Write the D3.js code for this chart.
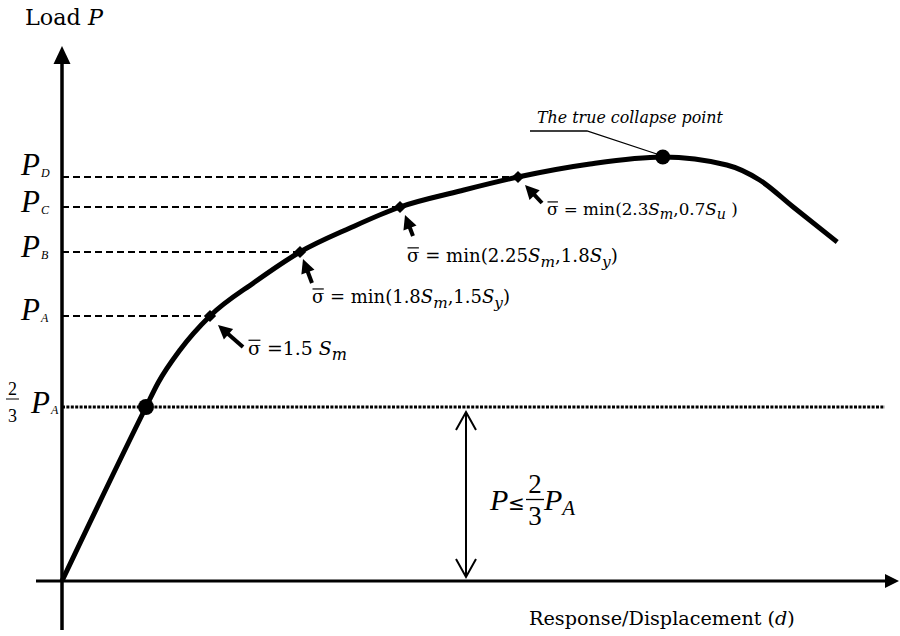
<!DOCTYPE html>
<html>
<head>
<meta charset="utf-8">
<script src="https://cdn.jsdelivr.net/npm/d3@7"></script>
<style>
body { margin: 0; background: #fff; }
text { font-family: "DejaVu Serif", serif; fill: #000; }
.math { font-family: "Liberation Serif", serif; }
</style>
</head>
<body>
<svg id="chart" width="900" height="636"></svg>
<script>
// load-displacement curve (arbitrary units)
var curveD = [0, 1.05, 1.2, 1.475, 1.85, 2.41, 2.975, 3.6, 4.225, 4.975, 5.7, 6.6, 7.51, 8.31, 8.72, 9.14, 9.69];
var curveP = [0, 3.48, 3.96, 4.62, 5.3, 5.98, 6.58, 7.06, 7.48, 7.8, 8.08, 8.34, 8.48, 8.32, 8.02, 7.48, 6.78];

// load levels P_A .. P_D marked on the curve
var levelNames = ['A', 'B', 'C', 'D'];
var levelD = [1.85, 2.975, 4.225, 5.7];
var levelP = [5.3, 6.58, 7.48, 8.08];
var stressLabels = [' =1.5 S_m', ' = min(1.8S_m,1.5S_y)', ' = min(2.25S_m,1.8S_y)', ' = min(2.3S_m,0.7S_u )'];

// 2/3 P_A and the collapse point
var allowD = 1.05, allowP = 3.48;
var collapseD = 7.51, collapseP = 8.48;

var svg = d3.select('#chart');
var g = svg.append('g');

var x = d3.scaleLinear().domain([0, 10]).range([62, 862]);
var y = d3.scaleLinear().domain([0, 10]).range([581, 81]);

function fit(sel, width) {
    var w = sel.node().getComputedTextLength();
    var fs = parseFloat(sel.style('font-size'));
    sel.style('font-size', (fs * width / w) + 'px');
}

function arrow(x1, y1, x2, y2, len, half, sw) {
    var a = Math.atan2(y2 - y1, x2 - x1);
    var bx = x2 - len * Math.cos(a), by = y2 - len * Math.sin(a);
    g.append('line')
        .attr('x1', x1).attr('y1', y1)
        .attr('x2', bx + 2 * Math.cos(a)).attr('y2', by + 2 * Math.sin(a))
        .attr('stroke', '#000').attr('stroke-width', sw);
    g.append('path')
        .attr('d', 'M' + x2 + ',' + y2 +
            'L' + (bx + half * Math.sin(a)) + ',' + (by - half * Math.cos(a)) +
            'L' + (bx - half * Math.sin(a)) + ',' + (by + half * Math.cos(a)) + 'Z')
        .attr('fill', '#000');
}

// reference lines
levelP.forEach(function(p, i) {
    g.append('line')
        .attr('x1', x(0)).attr('x2', x(levelD[i]))
        .attr('y1', y(p)).attr('y2', y(p))
        .attr('stroke', '#000').attr('stroke-width', 1.8)
        .attr('stroke-dasharray', '7,4');
});

g.append('line')
    .attr('x1', x(0)).attr('x2', 885)
    .attr('y1', y(allowP)).attr('y2', y(allowP))
    .attr('stroke', '#000').attr('stroke-width', 3.2)
    .attr('stroke-dasharray', '3,1.4');

// axes
g.append('line').attr('x1', 62).attr('x2', 62).attr('y1', 630).attr('y2', 60)
    .attr('stroke', '#000').attr('stroke-width', 3.5);
g.append('path').attr('d', 'M62,46L53.5,64L70.5,64Z').attr('fill', '#000');
g.append('line').attr('x1', 36).attr('x2', 888).attr('y1', y(0)).attr('y2', y(0))
    .attr('stroke', '#000').attr('stroke-width', 3);
g.append('path').attr('d', 'M899,581L885,574L885,588Z').attr('fill', '#000');

// the curve
var line = d3.line()
    .x(function(d) { return x(d[0]); })
    .y(function(d) { return y(d[1]); })
    .curve(d3.curveMonotoneX);

g.append('path')
    .datum(d3.zip(curveD, curveP))
    .attr('d', line)
    .attr('fill', 'none')
    .attr('stroke', '#000')
    .attr('stroke-width', 5)
    .attr('stroke-linejoin', 'round');

// markers
levelP.forEach(function(p, i) {
    g.append('path')
        .attr('d', d3.symbol(d3.symbolSquare, 75)())
        .attr('transform', 'translate(' + x(levelD[i]) + ',' + y(p) + ') rotate(45)')
        .attr('fill', '#000');
});
g.append('circle').attr('cx', x(allowD)).attr('cy', y(allowP)).attr('r', 8).attr('fill', '#000');
g.append('circle').attr('cx', x(collapseD)).attr('cy', y(collapseP)).attr('r', 7.5).attr('fill', '#000');

// stress annotations: [head dx, head dy, tail dx, tail dy, text dx, text dy, text width]
var notes = [
    [8, 9, 33, 31, 38, 39, 99],
    [3, 7, 12, 31, 12, 51, 198],
    [5, 8, 13, 29, 7, 55, 211],
    [7, 8, 24, 26, 29, 38, 191]
];

stressLabels.forEach(function(str, i) {
    var px = x(levelD[i]), py = y(levelP[i]), n = notes[i];
    arrow(px + n[2], py + n[3], px + n[0], py + n[1], 14, 7, 4);

    var t = g.append('text')
        .attr('x', px + n[4]).attr('y', py + n[5])
        .style('font-size', '16px');
    t.append('tspan').text('σ');
    var shift = 0;
    str.split(/(S_[a-z])/).forEach(function(part) {
        if (!part) return;
        if (part.indexOf('S_') === 0) {
            var s = t.append('tspan').style('font-style', 'italic').text('S');
            if (shift) { s.attr('dy', -shift + 'em'); shift = 0; }
            t.append('tspan').style('font-style', 'italic').style('font-size', '0.85em')
                .attr('dy', '0.3em').text(part.charAt(2));
            shift = 0.255;
        } else {
            var r = t.append('tspan').text(part);
            if (shift) { r.attr('dy', -shift + 'em'); shift = 0; }
        }
    });
    fit(t, n[6]);
    var fs = parseFloat(t.style('font-size'));
    var ext = t.node().getExtentOfChar(0);
    g.append('line')
        .attr('x1', ext.x + 0.5).attr('x2', ext.x + ext.width - 0.5)
        .attr('y1', py + n[5] - 0.78 * fs).attr('y2', py + n[5] - 0.78 * fs)
        .attr('stroke', '#000').attr('stroke-width', 1.2);
});

// level labels on the load axis
var labelDy = [4, 5, 5, -2];
levelNames.forEach(function(name, i) {
    var t = g.append('text').attr('class', 'math')
        .attr('x', 21).attr('y', y(levelP[i]) + labelDy[i]);
    t.append('tspan').style('font-size', '31px').style('font-style', 'italic').text('P');
    t.append('tspan').style('font-size', '12px').style('font-style', 'italic')
        .attr('dx', 1).attr('dy', 2).text(name);
});

// 2/3 P_A label
g.append('text').attr('class', 'math').attr('x', 12.5).attr('y', 395)
    .attr('text-anchor', 'middle').style('font-size', '18px').text('2');
g.append('line').attr('x1', 6).attr('x2', 19).attr('y1', 399).attr('y2', 399)
    .attr('stroke', '#000').attr('stroke-width', 1);
g.append('text').attr('class', 'math').attr('x', 12.5).attr('y', 422)
    .attr('text-anchor', 'middle').style('font-size', '18px').text('3');
var pa = g.append('text').attr('class', 'math').attr('x', 31).attr('y', y(allowP) + 6);
pa.append('tspan').style('font-size', '31px').style('font-style', 'italic').text('P');
pa.append('tspan').style('font-size', '12px').style('font-style', 'italic')
    .attr('dx', 1).attr('dy', 1).text('A');

// allowable range arrow and formula
var ax = 466, ay1 = y(allowP) + 5, ay2 = y(0) - 4;
g.append('line').attr('x1', ax).attr('x2', ax).attr('y1', ay1).attr('y2', ay2)
    .attr('stroke', '#000').attr('stroke-width', 2);
g.append('path')
    .attr('d', 'M' + (ax - 10) + ',' + (ay1 + 18) + 'L' + ax + ',' + ay1 + 'L' + (ax + 10) + ',' + (ay1 + 18) +
        'M' + (ax - 10) + ',' + (ay2 - 18) + 'L' + ax + ',' + ay2 + 'L' + (ax + 10) + ',' + (ay2 - 18))
    .attr('fill', 'none').attr('stroke', '#000').attr('stroke-width', 2);

g.append('text').attr('class', 'math').attr('x', 490).attr('y', 510)
    .style('font-size', '30px').style('font-style', 'italic').text('P');
g.append('text').attr('x', 508).attr('y', 510)
    .style('font-size', '20px').style('font-family', '"DejaVu Sans", sans-serif').text('≤');
g.append('text').attr('class', 'math').attr('x', 535).attr('y', 493)
    .attr('text-anchor', 'middle').style('font-size', '27px').text('2');
g.append('line').attr('x1', 526).attr('x2', 544).attr('y1', 499.5).attr('y2', 499.5)
    .attr('stroke', '#000').attr('stroke-width', 1.3);
g.append('text').attr('class', 'math').attr('x', 535).attr('y', 525)
    .attr('text-anchor', 'middle').style('font-size', '27px').text('3');
var pb = g.append('text').attr('class', 'math').attr('x', 544).attr('y', 510);
pb.append('tspan').style('font-size', '30px').style('font-style', 'italic').text('P');
pb.append('tspan').style('font-size', '21px').style('font-style', 'italic')
    .attr('dy', 5).text('A');

// collapse point callout
g.append('path')
    .attr('d', 'M530,131L587,131L' + (x(collapseD) - 6) + ',' + (y(collapseP) - 3))
    .attr('fill', 'none').attr('stroke', '#000').attr('stroke-width', 1.3);
var ct = g.append('text').attr('x', 537).attr('y', 123)
    .style('font-size', '16px').style('font-style', 'italic').text('The true collapse point');
fit(ct, 186);

// axis titles
var lt = g.append('text').attr('x', 25).attr('y', 25).style('font-size', '19px');
lt.append('tspan').text('Load ');
lt.append('tspan').style('font-style', 'italic').text('P');
fit(lt, 78);

var rt = g.append('text').attr('x', 529).attr('y', 625).style('font-size', '15px');
rt.append('tspan').text('Response/Displacement (');
rt.append('tspan').style('font-style', 'italic').text('d');
rt.append('tspan').text(')');
fit(rt, 266);
</script>
</body>
</html>
